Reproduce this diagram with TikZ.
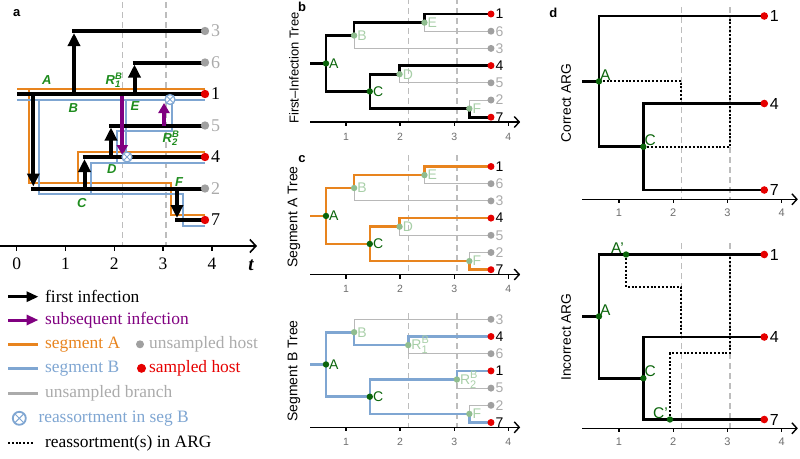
\documentclass[tikz,border=0pt]{standalone}
\usepackage{fontspec}
\setmainfont{Liberation Serif}
\setsansfont{Liberation Sans}
\usetikzlibrary{arrows.meta}
\definecolor{orA}{HTML}{E8841E}
\definecolor{blB}{HTML}{7FA6D2}
\definecolor{purp}{HTML}{800080}
\definecolor{grn}{HTML}{1E8C1E}
\definecolor{dgrn}{HTML}{0B650B}
\definecolor{fgrn}{HTML}{A8CFA8}
\definecolor{fdot}{HTML}{8FBD8F}
\definecolor{gry}{HTML}{ABABAB}
\definecolor{gdot}{HTML}{A0A0A0}
\definecolor{dsh}{HTML}{BDBDBD}
\definecolor{thg}{HTML}{B8B8B8}
\definecolor{rd}{HTML}{E60000}
\definecolor{tickc}{HTML}{6E6E6E}
\newcommand{\myfs}[1]{\fontsize{#1}{#1}\selectfont}
\tikzset{
  dashln/.style={dsh, line width=1.3pt, dash pattern=on 6pt off 4pt},
  hostln/.style={line width=4pt, black},
  segA/.style={orA, line width=2pt},
  segB/.style={blB, line width=2pt},
  firstarr/.style={black, line width=4pt, -{Triangle[length=13pt,width=12pt]}},
  subarr/.style={purp, line width=4pt, -{Triangle[length=10pt,width=11pt]}},
  rx/.style={circle, draw=blB, fill=white, line width=1.3pt, minimum size=10pt, inner sep=0pt,
     path picture={\draw[blB, line width=1pt] (path picture bounding box.north west) -- (path picture bounding box.south east)
       (path picture bounding box.north east) -- (path picture bounding box.south west);}},
  leafdot/.style={circle, fill=#1, inner sep=0pt, minimum size=7pt},
  bigdot/.style={circle, fill=#1, inner sep=0pt, minimum size=8.4pt},
  ndot/.style={circle, fill=#1, inner sep=0pt, minimum size=6.4pt},
  leaflab/.style={anchor=west, inner sep=0.5pt, font=\sffamily\myfs{14}},
  nlab/.style={anchor=west, inner sep=0.5pt, xshift=2.5pt, font=\sffamily\myfs{14}},
  glab/.style={font=\sffamily\bfseries\itshape\myfs{13}, text=grn, inner sep=0pt},
  treeln/.style={line width=2.6pt},
  thinb/.style={thg, line width=0.9pt},
  axln/.style={black, line width=1.4pt},
  ticklab/.style={font=\sffamily\myfs{10.5}, text=tickc},
  plab/.style={font=\sffamily\bfseries\myfs{13}},
  rotlab/.style={rotate=90, font=\sffamily\myfs{14}},
  arglab/.style={rotate=90, font=\sffamily\myfs{13.8}},
  dotl/.style={black, line width=2pt, dash pattern=on 2pt off 1.8pt},
  legt/.style={anchor=west, inner sep=0pt, font=\myfs{17.4}},
  chev/.style={-{Straight Barb[length=5pt,width=11pt,line width=1.4pt]}}
}
\newcommand{\fitree}[4]{%
\begin{scope}[xshift=291.9pt, yshift=-#2pt, x=54.1pt]
\draw[dashln] (2.15,#4) -- (2.15,122);
\draw[dashln] (3.05,#4) -- (3.05,122);
\coordinate (#1root) at (0.335,63.45);
\coordinate (#1A) at (0.63,63.45);
\coordinate (#1B) at (1.15,35.5);
\coordinate (#1C) at (1.44,91.4);
\coordinate (#1D) at (1.99,74.2);
\coordinate (#1E) at (2.45,22.6);
\coordinate (#1F) at (3.28,108.6);
\coordinate (#1l1) at (3.68,14);
\coordinate (#1l6) at (3.68,31.2);
\coordinate (#1l3) at (3.68,48.4);
\coordinate (#1l4) at (3.68,65.6);
\coordinate (#1l5) at (3.68,82.8);
\coordinate (#1l2) at (3.68,100);
\coordinate (#1l7) at (3.68,117.2);
\draw[thinb] (#1E) |- (#1l6);
\draw[thinb] (#1B) |- (#1l3);
\draw[thinb] (#1D) |- (#1l5);
\draw[thinb] (#1F) |- (#1l2);
\draw[treeln,#3] (#1root) -- (#1A) |- (#1B) |- (#1E) |- (#1l1);
\draw[treeln,#3] (#1A) |- (#1C) |- (#1D) |- (#1l4);
\draw[treeln,#3] (#1C) |- (#1F) |- (#1l7);
\coordinate (#1ax0) at (0.335,122);
\coordinate (#1ax1) at (4.22,122);
\draw[axln,chev] (#1ax0) -- (#1ax1);
\foreach \t in {1,2,3,4} {\draw[axln] (\t,122) -- (\t,126); \node[ticklab] at (\t,136.5) {\t};}
\foreach \n/\c/\tc in {1/rd/black,6/gdot/gry,3/gdot/gry,4/rd/black,5/gdot/gry,2/gdot/gry,7/rd/black} {
  \node[leafdot=\c] at (#1l\n) {};
  \node[leaflab, text=\tc] at ([xshift=4pt]#1l\n) {\n};
}
\foreach \m in {B,D,E,F} {\node[ndot=fdot] at (#1\m) {}; \node[nlab, text=fgrn] at (#1\m) {\m};}
\foreach \m in {A,C} {\node[ndot=dgrn] at (#1\m) {}; \node[nlab, text=dgrn] at (#1\m) {\m};}
\end{scope}}
\begin{document}
\begin{tikzpicture}[x=1pt,y=-1pt, line join=miter]
\useasboundingbox (0,0) rectangle (800,458);
% ================= panel a =================
\node[plab] at (16.7,13.3) {a};
\draw[dashln] (122.3,2) -- (122.3,246);
\draw[dashln] (166,2) -- (166,246);
% segment A (orange)
\draw[segA] (17,88.5) -- (205,88.5);
\draw[segA] (29,88.5) |- (171,183) |- (205,214.5);
\draw[segA] (78,183) |- (205,151.5);
% segment B (blue)
\draw[segB] (17,99.5) -- (205,99.5);
\draw[segB] (39,99.5) |- (183,194) |- (205,225.5);
\draw[segB] (91,194) |- (205,162.5);
\draw[segB] (117,162.5) |- (171.5,130.5) -- (171.5,99.5);
\draw[segB] (126,99.5) -- (126,157);
% hosts (black)
\coordinate (h1s) at (17,94);   \coordinate (h1e) at (205,94);
\coordinate (h2s) at (31.3,188.5); \coordinate (h2e) at (205,188.5);
\coordinate (h3s) at (72,31);   \coordinate (h3e) at (205,31);
\coordinate (h6s) at (132.5,62.5); \coordinate (h6e) at (205,62.5);
\coordinate (h4s) at (82.5,157); \coordinate (h4e) at (205,157);
\coordinate (h5s) at (109,125.5); \coordinate (h5e) at (205,125.5);
\coordinate (h7s) at (175,220); \coordinate (h7e) at (205,220);
\foreach \h in {1,2,3,6,4,5,7} {\draw[hostln] (h\h s) -- (h\h e);}
% first infections
\draw[firstarr] (33.3,94) -- (33.3,186.5);
\draw[firstarr] (74,94) -- (74,33);
\draw[firstarr] (134.5,94) -- (134.5,64.5);
\draw[firstarr] (84.5,188.5) -- (84.5,159);
\draw[firstarr] (111,157) -- (111,127.5);
\draw[firstarr] (177,188.5) -- (177,218);
% subsequent infections
\draw[subarr] (122.3,96) -- (122.3,155);
\draw[subarr] (164,125.5) -- (164,103);
\node[rx] (rx1) at (127,157) {};
\node[rx] (rx2) at (170,99.5) {};
% leaves
\foreach \n/\c/\tc in {3/gdot/gry,6/gdot/gry,1/rd/black,5/gdot/gry,4/rd/black,2/gdot/gry,7/rd/black} {
  \node[bigdot=\c] at (h\n e) {};
  \node[anchor=west, inner sep=0pt, text=\tc, font=\myfs{18}] at ([xshift=6pt]h\n e) {\n};
}
% labels
\node[glab] at (46.7,80) {A};
\node[glab] at (73.3,108.3) {B};
\node[glab] at (135,106) {E};
\node[glab] at (111.7,169.3) {D};
\node[glab] at (179,181.7) {F};
\node[glab] at (81.7,203.3) {C};
\node[glab] at (113,80) {R\rlap{\raisebox{5pt}{\myfs{9.5}B}}\raisebox{-3pt}{\myfs{9.5}1}};
\node[glab] at (170,138) {R\rlap{\raisebox{5pt}{\myfs{9.5}B}}\raisebox{-3pt}{\myfs{9.5}2}};
% axis
\coordinate (ax0) at (0,246); \coordinate (ax1) at (257,246);
\draw[axln, -{Straight Barb[length=6pt,width=13pt,line width=1.6pt]}] (ax0) -- (ax1);
\foreach \t in {0,1,2,3,4} {
  \draw[axln] ({16.7+48.8*\t},246) -- ({16.7+48.8*\t},251);
  \node[font=\myfs{17.5}] at ({16.7+48.8*\t},264) {\t};
}
\node[font=\bfseries\itshape\myfs{19}] at (251,265) {t};
% ================= legend =================
\draw[black, line width=3pt, -{Triangle[length=12pt,width=10pt]}] (8,296.7) -- (38.5,296.7);
\node[legt] at (45,296.7) {first infection};
\draw[purp, line width=3pt, -{Triangle[length=12pt,width=10pt]}] (8,320) -- (38.5,320);
\node[legt, text=purp] at (45,320) {subsequent infection};
\draw[orA, line width=2.5pt] (8,344.3) -- (38,344.3);
\node[legt, text=orA] at (45,344.3) {segment A};
\node[circle, fill=gdot, inner sep=0pt, minimum size=8pt] at (140,344.3) {};
\node[legt, text=gry] at (149,344.3) {unsampled host};
\draw[blB, line width=2.5pt] (8,368.3) -- (38,368.3);
\node[legt, text=blB] at (45,368.3) {segment B};
\node[circle, fill=rd, inner sep=0pt, minimum size=9pt] at (141.5,368.3) {};
\node[legt, text=rd] at (149,368.3) {sampled host};
\draw[gry, line width=2.5pt] (8,393.3) -- (38,393.3);
\node[legt, text=gry] at (45,393.3) {unsampled branch};
\node[rx, minimum size=13pt, line width=1.8pt] at (19.3,418.3) {};
\node[legt, text=blB] at (38.3,418.3) {reassortment in seg B};
\draw[dotl] (8,443.3) -- (33,443.3);
\node[legt] at (45,443.3) {reassortment(s) in ARG};
% ================= panels b, c =================
\node[plab] at (302,7) {b};
\node[plab] at (302,159) {c};
\node[rotlab, font=\sffamily\myfs{13}] at (294,68) {First–Infection Tree};
\node[rotlab] at (294,217) {Segment A Tree};
\node[rotlab] at (294,371) {Segment B Tree};
\fitree{b}{0}{black}{-12}
\fitree{c}{152.5}{orA}{2.5}
% segment B tree
\begin{scope}[xshift=291.9pt, yshift=-305.3pt, x=54.1pt]
\draw[dashln] (2.15,7.7) -- (2.15,122);
\draw[dashln] (3.05,7.7) -- (3.05,122);
\coordinate (sroot) at (0.335,59.15);
\coordinate (sA) at (0.63,59.15);
\coordinate (sB) at (1.15,26.9);
\coordinate (sR1) at (2.15,39.8);
\coordinate (sC) at (1.44,91.4);
\coordinate (sR2) at (3.05,74.2);
\coordinate (sF) at (3.28,108.6);
\coordinate (sl3) at (3.68,14);
\coordinate (sl4) at (3.68,31.2);
\coordinate (sl6) at (3.68,48.4);
\coordinate (sl1) at (3.68,65.6);
\coordinate (sl5) at (3.68,82.8);
\coordinate (sl2) at (3.68,100);
\coordinate (sl7) at (3.68,117.2);
\draw[thinb] (sB) |- (sl3);
\draw[thinb] (sR1) |- (sl6);
\draw[thinb] (sR2) |- (sl5);
\draw[thinb] (sF) |- (sl2);
\draw[treeln,blB] (sroot) -- (sA) |- (sB) |- (sR1) |- (sl4);
\draw[treeln,blB] (sA) |- (sC) |- (sR2) |- (sl1);
\draw[treeln,blB] (sC) |- (sF) |- (sl7);
\coordinate (sax0) at (0.335,122);
\coordinate (sax1) at (4.22,122);
\draw[axln,chev] (sax0) -- (sax1);
\foreach \t in {1,2,3,4} {\draw[axln] (\t,122) -- (\t,126); \node[ticklab] at (\t,136.5) {\t};}
\foreach \n/\c/\tc in {3/gdot/gry,4/rd/black,6/gdot/gry,1/rd/black,5/gdot/gry,2/gdot/gry,7/rd/black} {
  \node[leafdot=\c] at (sl\n) {};
  \node[leaflab, text=\tc] at ([xshift=4pt]sl\n) {\n};
}
\foreach \m in {B,F} {\node[ndot=fdot] at (s\m) {}; \node[nlab, text=fgrn] at (s\m) {\m};}
\node[ndot=fdot] at (sR1) {};
\node[nlab, text=fgrn] at (sR1) {R\rlap{\raisebox{6pt}{\myfs{11}B}}\raisebox{-4pt}{\myfs{11}1}};
\node[ndot=fdot] at (sR2) {};
\node[nlab, text=fgrn] at (sR2) {R\rlap{\raisebox{6pt}{\myfs{11}B}}\raisebox{-4pt}{\myfs{11}2}};
\foreach \m in {A,C} {\node[ndot=dgrn] at (s\m) {}; \node[nlab, text=dgrn] at (s\m) {\m};}
\end{scope}
% ================= panel d =================
\node[plab] at (553.3,13.3) {d};
\node[arglab] at (566,103) {Correct ARG};
\node[arglab] at (566,337) {Incorrect ARG};
\begin{scope}[xshift=564.8pt, x=54.2pt]
\draw[dashln] (2.15,7) -- (2.15,199.3);
\draw[dashln] (3.05,7) -- (3.05,199.3);
\coordinate (uroot) at (0.32,81.4);
\coordinate (uA) at (0.63,81.4);
\coordinate (uC) at (1.45,146.75);
\coordinate (ul1) at (3.68,16);
\coordinate (ul4) at (3.68,103.5);
\coordinate (ul7) at (3.68,190);
\coordinate (ud1) at (2.15,103.5);
\coordinate (ud2) at (3.05,16);
\draw[treeln] (uroot) -- (uA) |- (ul1);
\draw[treeln] (uA) |- (uC) |- (ul4);
\draw[treeln] (uC) |- (ul7);
\draw[dotl] (uA) -| (ud1);
\draw[dotl] (uC) -| (ud2);
\coordinate (uax0) at (0.32,199.3);
\coordinate (uax1) at (4.3,199.3);
\draw[axln,chev] (uax0) -- (uax1);
\foreach \t in {1,2,3,4} {\draw[axln] (\t,199.3) -- (\t,203.3); \node[ticklab, font=\sffamily\myfs{11}] at (\t,213) {\t};}
\foreach \n in {1,4,7} {
  \node[circle, fill=rd, inner sep=0pt, minimum size=7.6pt] at (ul\n) {};
  \node[anchor=west, inner sep=0.5pt, font=\sffamily\myfs{16}] at ([xshift=5pt]ul\n) {\n};
}
\foreach \m in {A,C} {
  \node[ndot=dgrn] at (u\m) {};
  \node[anchor=south west, inner sep=1pt, text=dgrn, font=\sffamily\myfs{15.5}] at (u\m) {\m};
}
% lower
\draw[dashln] (2.15,243) -- (2.15,428.3);
\draw[dashln] (3.05,243) -- (3.05,428.3);
\coordinate (wroot) at (0.32,316.4);
\coordinate (wA) at (0.63,316.4);
\coordinate (wC) at (1.45,378.25);
\coordinate (wAp) at (1.13,254.5);
\coordinate (wCp) at (1.94,419.5);
\coordinate (wl1) at (3.68,254.5);
\coordinate (wl4) at (3.68,337);
\coordinate (wl7) at (3.68,419.5);
\coordinate (wk1) at (1.13,287);
\coordinate (wd1) at (2.15,337);
\coordinate (wk2) at (1.94,353.3);
\coordinate (wd2) at (3.05,254.5);
\draw[treeln] (wroot) -- (wA) |- (wl1);
\draw[treeln] (wA) |- (wC) |- (wl4);
\draw[treeln] (wC) |- (wl7);
\draw[dotl] (wAp) -- (wk1) -| (wd1);
\draw[dotl] (wCp) -- (wk2) -| (wd2);
\coordinate (wax0) at (0.32,428.3);
\coordinate (wax1) at (4.3,428.3);
\draw[axln,chev] (wax0) -- (wax1);
\foreach \t in {1,2,3,4} {\draw[axln] (\t,428.3) -- (\t,432.3); \node[ticklab, font=\sffamily\myfs{11}] at (\t,442) {\t};}
\foreach \n in {1,4,7} {
  \node[circle, fill=rd, inner sep=0pt, minimum size=7.6pt] at (wl\n) {};
  \node[anchor=west, inner sep=0.5pt, font=\sffamily\myfs{16}] at ([xshift=5pt]wl\n) {\n};
}
\foreach \m in {A,C} {
  \node[ndot=dgrn] at (w\m) {};
  \node[anchor=south west, inner sep=1pt, text=dgrn, font=\sffamily\myfs{15.5}] at (w\m) {\m};
}
\node[ndot=dgrn] at (wAp) {};
\node[anchor=south east, inner sep=1pt, text=dgrn, font=\sffamily\myfs{15.5}] at ([xshift=-1pt]wAp) {A'};
\node[ndot=dgrn] at (wCp) {};
\node[anchor=south east, inner sep=1pt, text=dgrn, font=\sffamily\myfs{15.5}] at ([xshift=-1pt]wCp) {C'};
\end{scope}
\end{tikzpicture}
\end{document}
